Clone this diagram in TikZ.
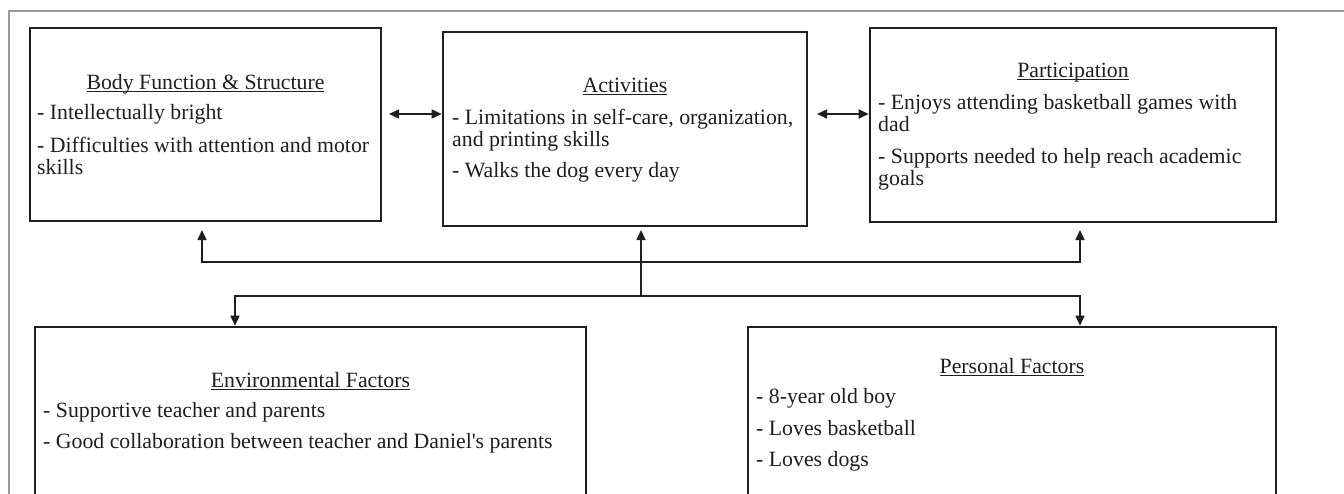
\documentclass[tikz,border=0pt]{standalone}
\usepackage{fontspec}
\setmainfont{Liberation Serif}
\usetikzlibrary{arrows.meta}
\newcommand{\ult}[1]{{\setbox0\hbox{#1}\rlap{\rule[-2.6pt]{\wd0}{1.1pt}}\box0}}
\begin{document}
\begin{tikzpicture}[x=1pt,y=-1pt,
  box/.style={draw=black!88, line width=2.6pt, rectangle, inner sep=0pt},
  conn/.style={draw=black!88, line width=1.6pt},
  tip/.style={-{Triangle[length=10pt,width=9pt]}},
  dtip/.style={{Triangle[length=10pt,width=9pt]}-{Triangle[length=10pt,width=9pt]}},
  txt/.style={anchor=base west, inner sep=0pt, text=black!88, font=\fontsize{21.8}{26}\selectfont},
  ttl/.style={anchor=base, inner sep=0pt, text=black!88, font=\fontsize{21.8}{26}\selectfont}]
\clip (0,0) rectangle (1344,493);
\fill[white] (0,0) rectangle (1344,493);
\draw[black!40, line width=1.2pt] (1400,11) -- (9,11) -- (9,600);

% boxes
\node[box, minimum width=351pt, minimum height=193pt] (b1) at (205.5,124.5) {};
\node[box, minimum width=364pt, minimum height=194pt] (b2) at (625,129) {};
\node[box, minimum width=406pt, minimum height=194pt] (b3) at (1073,125) {};
\node[box, minimum width=551pt, minimum height=273pt] (env) at (310.5,463.5) {};
\node[box, minimum width=528pt, minimum height=273pt] (pers) at (1012,463.5) {};

% box 1 text
\node[ttl] (t1) at (205.5,89) {\ult{Body Function \& Structure}};
\node[txt] (t1a) at (37,119) {- Intellectually bright};
\node[txt] (t1b) at (37,152) {- Difficulties with attention and motor};
\node[txt] (t1c) at (37,174) {skills};

% box 2 text
\node[ttl] (t2) at (625,92) {\ult{Activities}};
\node[txt] (t2a) at (452,124) {- Limitations in self-care, organization,};
\node[txt] (t2b) at (452,146) {and printing skills};
\node[txt] (t2c) at (452,177) {- Walks the dog every day};

% box 3 text
\node[ttl] (t3) at (1073,77) {\ult{Participation}};
\node[txt] (t3a) at (878,109) {- Enjoys attending basketball games with};
\node[txt] (t3b) at (878,131) {dad};
\node[txt] (t3c) at (878,163) {- Supports needed to help reach academic};
\node[txt] (t3d) at (878,185) {goals};

% environmental
\node[ttl] (t4) at (310.5,387) {\ult{Environmental Factors}};
\node[txt] (t4a) at (43,417) {- Supportive teacher and parents};
\node[txt] (t4b) at (43,448) {- Good collaboration between teacher and Daniel\textquotesingle s parents};

% personal
\node[ttl] (t5) at (1012,373) {\ult{Personal Factors}};
\node[txt] (t5a) at (756,403) {- 8-year old boy};
\node[txt] (t5b) at (756,435) {- Loves basketball};
\node[txt] (t5c) at (756,466) {- Loves dogs};

% connectors
\coordinate (da1) at (389,114);
\coordinate (da2) at (817,114);
\draw[conn, dtip] (da1) -- (da1 -| b2.west);
\draw[conn, dtip] (da2) -- (da2 -| b3.west);

\coordinate (hub) at (641,296);
\coordinate (hubt) at (641,262);
\coordinate (u1) at (202,230);
\coordinate (u2) at (641,230);
\coordinate (u3) at (1080,230);
\draw[conn, tip] (hub) -- (u2);
\draw[conn, tip] (hubt) -| (u1);
\draw[conn, tip] (hubt) -| (u3);
\draw[conn, tip] (hub) -| ([xshift=-75.5pt]env.north);
\draw[conn, tip] (hub) -| ([xshift=68pt]pers.north);
\end{tikzpicture}
\end{document}
